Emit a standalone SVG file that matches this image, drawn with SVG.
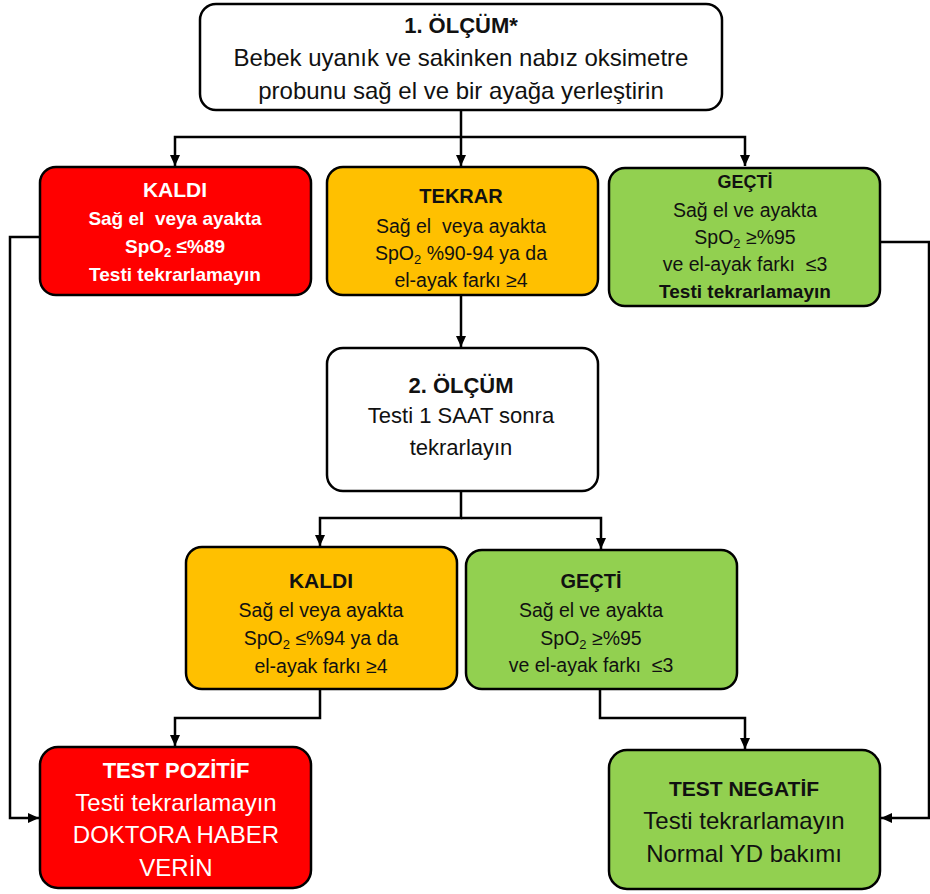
<svg xmlns="http://www.w3.org/2000/svg" width="930" height="894" viewBox="0 0 930 894">
  <defs>
    <marker id="ah" markerUnits="userSpaceOnUse" markerWidth="12" markerHeight="10" refX="11" refY="5" orient="auto">
      <path d="M0,0 L11,5 L0,10 Z" fill="#000"/>
    </marker>
    <style>
      .box{stroke:#000;stroke-width:2.5}
      .white{fill:#fff}
      .red{fill:#ff0000}
      .yel{fill:#ffc000}
      .grn{fill:#92d050}
      text{font-family:"Liberation Sans",Arial,sans-serif;text-anchor:middle;fill:#111}
      .w{fill:#fff}
      .b{font-weight:bold}
      .conn path{fill:none;stroke:#000;stroke-width:2.5}
    </style>
  </defs>
  <rect width="930" height="894" fill="#fff"/>

  <g id="connectors" class="conn">
    <path d="M461,110 V166" marker-end="url(#ah)"/>
    <path d="M461,137 H175 V166" marker-end="url(#ah)"/>
    <path d="M461,137 H745 V166" marker-end="url(#ah)"/>
    <path d="M40,237 H10 V818 H39" marker-end="url(#ah)"/>
    <path d="M880,242 H929 V818 H881" marker-end="url(#ah)"/>
    <path d="M461,295 V347" marker-end="url(#ah)"/>
    <path d="M461,491 V518 H320 V546" marker-end="url(#ah)"/>
    <path d="M461,518 H601 V549" marker-end="url(#ah)"/>
    <path d="M320,689 V718 H175 V746" marker-end="url(#ah)"/>
    <path d="M600,689 V718 H745 V749" marker-end="url(#ah)"/>
  </g>

  <g id="olcum1">
    <rect class="box white" x="200" y="4" width="522" height="106" rx="16"/>
    <text class="b" x="461" y="33" font-size="22">1. ÖLÇÜM*</text>
    <text x="461" y="66" font-size="24">Bebek uyanık ve sakinken nabız oksimetre</text>
    <text x="461" y="99" font-size="24">probunu sağ el ve bir ayağa yerleştirin</text>
  </g>

  <g id="kaldi1">
    <rect class="box red" x="40" y="167" width="271" height="128" rx="16"/>
    <text class="b w" x="175" y="197" font-size="21">KALDI</text>
    <text class="b w" x="175" y="225" font-size="19">Sağ el &#160;veya ayakta</text>
    <text class="b w" x="175" y="253" font-size="19">SpO<tspan font-size="13" dy="4">2</tspan><tspan dy="-4"> ≤%89</tspan></text>
    <text class="b w" x="175" y="281" font-size="19">Testi tekrarlamayın</text>
  </g>

  <g id="tekrar">
    <rect class="box yel" x="327" y="167" width="271" height="128" rx="16"/>
    <text class="b" x="461" y="203" font-size="20">TEKRAR</text>
    <text x="461" y="233" font-size="19.5">Sağ el &#160;veya ayakta</text>
    <text x="461" y="260" font-size="19.5">SpO<tspan font-size="13" dy="4">2</tspan><tspan dy="-4"> %90-94 ya da</tspan></text>
    <text x="461" y="287" font-size="19.5">el-ayak farkı ≥4</text>
  </g>

  <g id="gecti1">
    <rect class="box grn" x="609" y="168" width="271" height="138" rx="16"/>
    <text class="b" x="745" y="188" font-size="18">GEÇTİ</text>
    <text x="745" y="217" font-size="19.5">Sağ el ve ayakta</text>
    <text x="745" y="244" font-size="19.5">SpO<tspan font-size="13" dy="4">2</tspan><tspan dy="-4"> ≥%95</tspan></text>
    <text x="745" y="271" font-size="19.5">ve el-ayak farkı &#160;≤3</text>
    <text class="b" x="745" y="298" font-size="19">Testi tekrarlamayın</text>
  </g>

  <g id="olcum2">
    <rect class="box white" x="327" y="348" width="271" height="143" rx="16"/>
    <text class="b" x="461" y="393" font-size="22">2. ÖLÇÜM</text>
    <text x="461" y="423" font-size="22">Testi 1 SAAT sonra</text>
    <text x="461" y="455" font-size="22">tekrarlayın</text>
  </g>

  <g id="kaldi2">
    <rect class="box yel" x="186" y="547" width="271" height="142" rx="16"/>
    <text class="b" x="321" y="588" font-size="21">KALDI</text>
    <text x="321" y="617" font-size="19.5">Sağ el veya ayakta</text>
    <text x="321" y="645" font-size="19.5">SpO<tspan font-size="13" dy="4">2</tspan><tspan dy="-4"> ≤%94 ya da</tspan></text>
    <text x="321" y="673" font-size="19.5">el-ayak farkı ≥4</text>
  </g>

  <g id="gecti2">
    <rect class="box grn" x="466" y="550" width="271" height="139" rx="16"/>
    <text class="b" x="591" y="588" font-size="20">GEÇTİ</text>
    <text x="591" y="617" font-size="19.5">Sağ el ve ayakta</text>
    <text x="591" y="645" font-size="19.5">SpO<tspan font-size="13" dy="4">2</tspan><tspan dy="-4"> ≥%95</tspan></text>
    <text x="591" y="672" font-size="19.5">ve el-ayak farkı &#160;≤3</text>
  </g>

  <g id="pozitif">
    <rect class="box red" x="40" y="747" width="271" height="141" rx="18"/>
    <text class="b w" x="176" y="778" font-size="22">TEST POZİTİF</text>
    <text class="w" x="176" y="811" font-size="24">Testi tekrarlamayın</text>
    <text class="w" x="176" y="843" font-size="24">DOKTORA HABER</text>
    <text class="w" x="176" y="876" font-size="24">VERİN</text>
  </g>

  <g id="negatif">
    <rect class="box grn" x="609" y="750" width="271" height="139" rx="18"/>
    <text class="b" x="744" y="796" font-size="21">TEST NEGATİF</text>
    <text x="744" y="829" font-size="24">Testi tekrarlamayın</text>
    <text x="744" y="862" font-size="24">Normal YD bakımı</text>
  </g>
</svg>
